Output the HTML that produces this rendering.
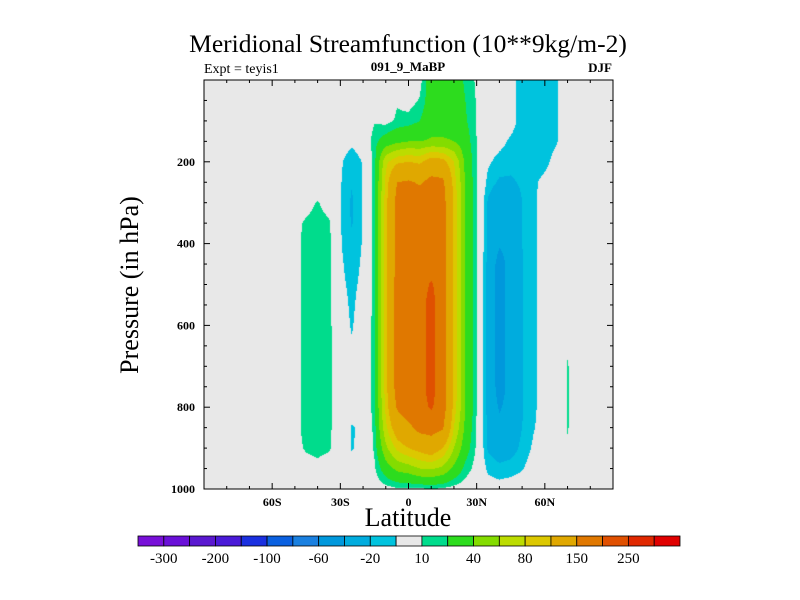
<!DOCTYPE html>
<html><head><meta charset="utf-8">
<style>
html,body{margin:0;padding:0;background:#fff;}
#wrap{position:relative;width:800px;height:600px;overflow:hidden;font-family:"Liberation Serif",serif;color:#000;}
.t{position:absolute;white-space:nowrap;}
</style></head>
<body>
<div id="wrap">
<div class="t" style="left:0;width:816px;text-align:center;top:29px;font-size:25.5px;">Meridional Streamfunction (10**9kg/m-2)</div>
<div class="t" style="left:204px;top:62px;font-size:14px;">Expt = teyis1</div>
<div class="t" style="left:308px;width:200px;text-align:center;top:59px;font-size:13px;font-weight:bold;">091_9_MaBP</div>
<div class="t" style="left:512px;width:100px;text-align:right;top:60px;font-size:13px;font-weight:bold;">DJF</div>
<div class="t" style="left:130px;top:285px;font-size:26px;transform:translate(-50%,-50%) rotate(-90deg);">Pressure (in hPa)</div>
<div class="t" style="left:308px;width:200px;text-align:center;top:503px;font-size:26px;">Latitude</div>
<canvas id="field" width="409" height="409" style="position:absolute;left:204px;top:80px;"></canvas>
<svg id="svg" width="800" height="600" style="position:absolute;left:0;top:0;"></svg>
</div>
<script>
const lats = [-90,-85,-80,-75,-70,-65,-60,-55,-50,-45,-40,-35,-30,-25,-20,-15,-10,-5,0,5,10,15,20,25,30,35,40,45,50,55,60,65,70,75,80,85,90];
const levels = [0,50,100,150,200,250,300,350,400,450,500,550,600,650,700,750,800,850,900,950,1000];
const psi0   = [0,0,0,0,0,0,0,0,0,0,0,0,0,0,0,0,0,0,-2,6,30,30,28,18,8,0,0,-5,-15,-16,-15,-11,-3,0,0,0,0];
const psi50  = [0,0,0,0,0,0,0,0,0,0,0,0,0,0,0,0,0,9,5,11,30,32,30,20,9,0,0,-5,-15,-16,-15,-11,-3,0,0,0,0];
const psi100 = [0,0,0,0,0,0,0,0,0,0,0,0,0,-3,0,9,6,12,14,20,32,33,32,22,9,0,0,-5,-15,-16,-15,-11,-3,0,0,0,0];
const psi150 = [0,0,0,0,0,0,0,0,0,0,0,0,-3,-7,-3,16,28,35,40,40,42,42,40,28,10,-3,-6,-12,-16,-16,-15,-11,-3,0,0,0,0];
const psi200 = [0,0,0,0,0,0,0,0,0,0,0,0,-8,-17,-9,15,75,95,100,95,115,110,80,35,10,-8,-14,-16,-16,-15,-13,-6,-1,0,0,0,0];
const psi250 = [0,0,0,0,0,0,0,0,0,0,0,0,-9,-19,-9,15,85,150,155,145,165,160,90,38,10,-14,-22,-22,-18,-12,-7,-3,0,0,0,0,0];
const psi300 = [0,0,0,0,0,0,0,0,0,5,11,4,-9,-22,-9,15,90,165,175,175,180,170,95,40,10,-22,-35,-32,-20,-12,-5,-1,0,0,0,0,0];
const psi350 = [0,0,0,0,0,0,0,0,6,12,15,12,-9,-21,-9,15,90,165,175,175,180,170,95,40,10,-22,-35,-32,-20,-12,-5,-1,0,0,0,0,0];
const psi400 = [0,0,0,0,0,0,0,0,6,14,16,14,-9,-17,-9,15,90,165,175,175,180,170,95,40,10,-22,-38,-32,-20,-12,-5,-1,0,0,0,0,0];
const psi450 = [0,0,0,0,0,0,0,0,6,14,16,14,-8,-15,-8,15,90,165,175,175,180,170,95,40,10,-25,-48,-33,-21,-12,-5,-1,0,0,0,0,0];
const psi500 = [0,0,0,0,0,0,0,0,6,14,16,14,-7,-13,-7,15,90,170,180,180,205,175,95,40,10,-25,-48,-33,-21,-12,-5,-1,0,0,0,0,0];
const psi550 = [0,0,0,0,0,0,0,0,6,14,16,14,-5,-12,-5,15,90,170,180,185,215,175,95,40,10,-25,-48,-33,-21,-12,-5,-1,0,0,0,0,0];
const psi600 = [0,0,0,0,0,0,0,0,6,14,16,14,-4,-11,-4,15,90,170,180,185,215,175,95,40,10,-25,-48,-33,-21,-12,-5,-1,0,0,0,0,0];
const psi650 = [0,0,0,0,0,0,0,0,6,14,16,14,-3,-9,-3,15,90,170,180,185,215,175,95,40,10,-25,-48,-33,-21,-12,-5,-3,8,0,0,0,0];
const psi700 = [0,0,0,0,0,0,0,0,6,14,16,14,-2,-5,-2,15,90,170,180,185,215,175,95,40,10,-25,-48,-33,-21,-12,-5,-3,11,0,0,0,0];
const psi750 = [0,0,0,0,0,0,0,0,6,14,16,14,0,-3,0,15,90,170,180,185,215,175,95,40,10,-25,-48,-33,-21,-12,-5,-3,11,0,0,0,0];
const psi800 = [0,0,0,0,0,0,0,0,6,14,16,14,0,-5,-2,15,85,155,175,185,205,175,90,40,10,-25,-42,-33,-21,-12,-5,-3,11,0,0,0,0];
const psi850 = [0,0,0,0,0,0,0,0,6,14,15,13,0,-11,-8,14,75,120,140,165,170,155,80,35,9,-24,-35,-30,-20,-11,-4,-3,11,0,0,0,0];
const psi900 = [0,0,0,0,0,0,0,0,5,12,14,12,0,-11,-6,12,55,85,100,110,120,100,60,28,8,-22,-28,-26,-17,-8,-3,-2,8,0,0,0,0];
const psi950 = [0,0,0,0,0,0,0,0,1,3,6,2,0,-5,-3,8,30,45,50,60,62,55,35,16,5,-13,-17,-15,-11,-4,-1,0,0,0,0,0,0];
const psi1000= [0,0,0,0,0,0,0,0,0,0,0,0,0,0,0,2,5,8,8,8,10,8,5,3,0,-3,-4,-3,-2,0,0,0,0,0,0,0,0];
const psi = [psi0,psi50,psi100,psi150,psi200,psi250,psi300,psi350,psi400,psi450,psi500,psi550,psi600,psi650,psi700,psi750,psi800,psi850,psi900,psi950,psi1000];
const bounds = [-300,-250,-200,-150,-100,-80,-60,-40,-20,-10,10,20,40,60,80,100,150,200,250,300];
const colors = ['#7810d8','#6a10d8','#5a18d0','#4a1ad8','#1a30e0','#0a60e0','#1a80e0','#0098dc','#00acde','#00c3de','#e8e8e8','#00dc8c','#2ddc1e','#84dc00','#bcdc00','#dcc800','#e0a800','#e07800','#e05000','#e02800','#e00000'];
const cbLabels = ['-300','-200','-100','-60','-20','10','40','80','150','250'];
const xTickVals = [-60,-30,0,30,60];
const xTickLabels = ['60S','30S','0','30N','60N'];
const yTickVals = [200,400,600,800,1000];

const PX0=204, PX1=613, PY0=80, PY1=489;
function xScale(lat){return PX0+(lat+90)/180*(PX1-PX0);}
function yScale(p){return PY0+p/1000*(PY1-PY0);}
function hexRgb(h){return [parseInt(h.substr(1,2),16),parseInt(h.substr(3,2),16),parseInt(h.substr(5,2),16)];}
const rgb = colors.map(hexRgb);
function level(v){let i=0;while(i<bounds.length&&v>=bounds[i])i++;return i;}

const cv=document.getElementById('field');const ctx=cv.getContext('2d');
const W=cv.width,H=cv.height;const img=ctx.createImageData(W,H);
for(let py=0;py<H;py++){
  const p=(py+0.5)/H*1000;
  let j=Math.min(levels.length-2,Math.floor(p/50));
  while(j<levels.length-2&&p>levels[j+1])j++;
  const fy=(p-levels[j])/(levels[j+1]-levels[j]);
  for(let px=0;px<W;px++){
    const lat=(px+0.5)/W*180-90;
    let i=Math.min(lats.length-2,Math.floor((lat+90)/5));
    const fx=(lat-lats[i])/(lats[i+1]-lats[i]);
    const a=psi[j][i],b=psi[j][i+1],c=psi[j+1][i],d=psi[j+1][i+1];
    const v=(a*(1-fx)+b*fx)*(1-fy)+(c*(1-fx)+d*fx)*fy;
    const col=rgb[level(v)];const k=(py*W+px)*4;
    img.data[k]=col[0];img.data[k+1]=col[1];img.data[k+2]=col[2];img.data[k+3]=255;
  }
}
ctx.putImageData(img,0,0);

const svg=document.getElementById('svg');const NS='http://www.w3.org/2000/svg';
function mk(tag,attrs){const e=document.createElementNS(NS,tag);for(const k in attrs)e.setAttribute(k,attrs[k]);svg.appendChild(e);return e;}
let fr=mk('rect',{x:PX0,y:PY0,width:PX1-PX0,height:PY1-PY0,fill:'none',stroke:'#000','stroke-width':1});


for(let lat=-80;lat<=80;lat+=10){
  const x=xScale(lat);const major=(lat%30===0);const L=major?6:3;
  let t1=mk('line',{x1:x,y1:PY1,x2:x,y2:PY1-L,stroke:'#000'});
  
  
  let t2=mk('line',{x1:x,y1:PY0,x2:x,y2:PY0+L,stroke:'#000'});
  
  
}
for(let p=50;p<1000;p+=50){
  const y=yScale(p);const major=(p%200===0);const L=major?6:3;
  let t1=mk('line',{x1:PX0,y1:y,x2:PX0+L,y2:y,stroke:'#000'});
  
  
  let t2=mk('line',{x1:PX1,y1:y,x2:PX1-L,y2:y,stroke:'#000'});
  
  
}
xTickVals.forEach((v,i)=>{
  const t=mk('text',{x:xScale(v),y:506,'font-size':12,'font-weight':'bold','text-anchor':'middle','font-family':'Liberation Serif, serif'});
  t.textContent=xTickLabels[i];
  
  
});
yTickVals.forEach(v=>{
  const t=mk('text',{x:195,y:yScale(v)+4,'font-size':12,'font-weight':'bold','text-anchor':'end','font-family':'Liberation Serif, serif'});
  t.textContent=String(v);
  
  
});
const CB0=138,CB1=680,CBY=536,CBH=10;const bw=(CB1-CB0)/colors.length;
colors.forEach((c,i)=>{
  const r=mk('rect',{x:CB0+i*bw,y:CBY,width:bw,height:CBH,fill:c,stroke:'#000','stroke-width':0.8});
  
  
});
cbLabels.forEach((l,i)=>{
  const t=mk('text',{x:CB0+(2*i+1)*bw,y:563,'font-size':15,'text-anchor':'middle','font-family':'Liberation Serif, serif'});
  t.textContent=l;
  
  
});
</script>
</body></html>
